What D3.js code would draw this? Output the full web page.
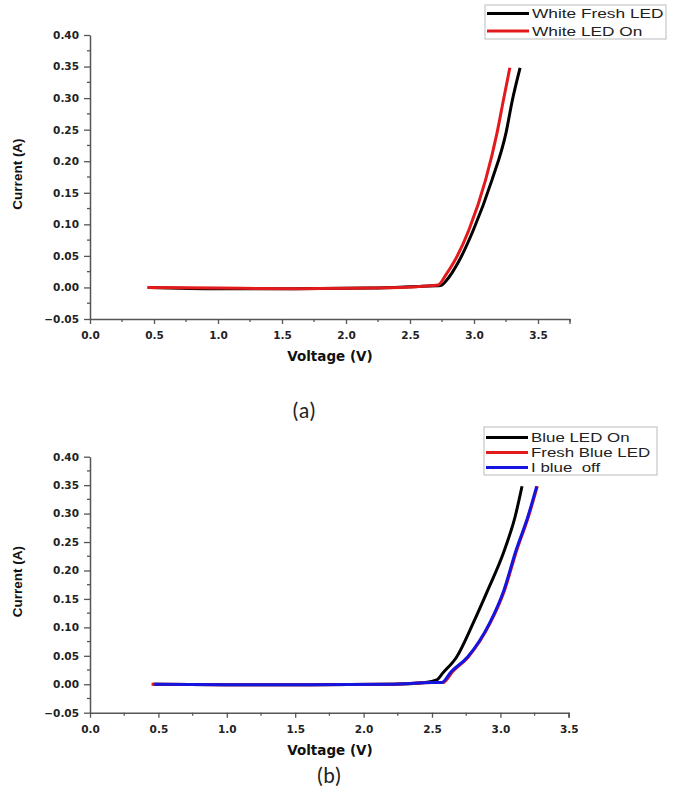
<!DOCTYPE html>
<html>
<head>
<meta charset="utf-8">
<script src="https://cdn.jsdelivr.net/npm/d3@7"></script>
<style>
body { margin: 0; background: #fff; }
text { font-family: "Liberation Sans", Arial, sans-serif; white-space: pre; }
</style>
</head>
<body>
<div id="container"></div>
<script>
var width = 675,
    height = 802;

// panel (a)
var whiteFreshV = [0.45, 1.0, 1.6, 2.2, 2.6, 2.74, 2.80, 2.875, 2.995, 3.14, 3.25, 3.30, 3.36];
var whiteFreshI = [0, -0.002, -0.002, -0.001, 0.002, 0.003, 0.015, 0.039, 0.091, 0.17, 0.245, 0.297, 0.348];
var whiteOnV = [0.45, 1.0, 1.6, 2.2, 2.6, 2.72, 2.78, 2.84, 2.96, 3.09, 3.18, 3.23, 3.28];
var whiteOnI = [0, -0.001, -0.002, -0.001, 0.002, 0.004, 0.02, 0.039, 0.091, 0.17, 0.245, 0.297, 0.348];

// panel (b)
var blueOnV = [0.46, 1.0, 1.6, 2.2, 2.45, 2.534, 2.58, 2.68, 2.80, 2.907, 3.03, 3.107, 3.158];
var blueOnI = [0, -0.001, -0.001, 0, 0.003, 0.0075, 0.02, 0.048, 0.107, 0.165, 0.236, 0.294, 0.348];
var freshBlueV = [0.45, 1.0, 1.6, 2.2, 2.5, 2.58, 2.65, 2.765, 2.924, 3.03, 3.12, 3.204, 3.27];
var freshBlueI = [0, -0.001, -0.001, 0, 0.003, 0.003, 0.022, 0.048, 0.107, 0.165, 0.236, 0.294, 0.348];
var blueOffV = [0.47, 1.0, 1.6, 2.2, 2.5, 2.57, 2.64, 2.76, 2.92, 3.025, 3.115, 3.2, 3.265];
var blueOffI = [0, -0.001, -0.001, 0, 0.003, 0.003, 0.022, 0.048, 0.107, 0.165, 0.236, 0.294, 0.348];

var xTicks = [0.0, 0.5, 1.0, 1.5, 2.0, 2.5, 3.0, 3.5];
var yTicks = [-0.05, 0.00, 0.05, 0.10, 0.15, 0.20, 0.25, 0.30, 0.35, 0.40];

var svg = d3.select('div#container')
    .append('svg')
    .attr('width', width)
    .attr('height', height);

function zip(vs, is) {
    return vs.map(function(v, i) { return [v, is[i]]; });
}

function panel(opt) {
    var x = d3.scaleLinear().domain([0, opt.xMax]).range([90, opt.xRight]);
    var y = d3.scaleLinear().domain([-0.05, 0.40]).range([opt.yBottom, opt.yTop]);
    var g = svg.append('g');

    // minor ticks
    var xMinor = d3.range(0.25, opt.xMax + 0.001, 0.5);
    g.selectAll('.xm').data(xMinor).enter().append('line')
        .attr('x1', function(d) { return x(d); }).attr('x2', function(d) { return x(d); })
        .attr('y1', opt.yBottom).attr('y2', opt.yBottom + 3)
        .attr('stroke', '#555').attr('stroke-width', 1.3);
    var yMinor = d3.range(-0.025, 0.40, 0.05);
    g.selectAll('.ym').data(yMinor).enter().append('line')
        .attr('y1', function(d) { return y(d); }).attr('y2', function(d) { return y(d); })
        .attr('x1', 90).attr('x2', 87)
        .attr('stroke', '#555').attr('stroke-width', 1.3);

    var xAxis = d3.axisBottom(x).tickValues(xTicks.filter(function(t) { return t <= opt.xMax; }))
        .tickFormat(d3.format('.1f')).tickSize(5).tickSizeOuter(0);
    var yAxis = d3.axisLeft(y).tickValues(yTicks)
        .tickFormat(d3.format('.2f')).tickSize(6).tickSizeOuter(0);

    var gx = g.append('g').attr('transform', 'translate(0,' + opt.yBottom + ')').call(xAxis);
    var gy = g.append('g').attr('transform', 'translate(90,0)').call(yAxis);
    [gx, gy].forEach(function(a) {
        a.select('.domain').attr('stroke', '#555').attr('stroke-width', 1.5);
        a.selectAll('.tick line').attr('stroke', '#555').attr('stroke-width', 1.3);
        a.selectAll('.tick text').attr('fill', '#222')
            .style('font-family', '"DejaVu Sans", sans-serif')
            .style('font-size', '10.5px').style('font-weight', 'bold');
    });
    gx.selectAll('.tick text').attr('dy', '1.15em');
    gy.selectAll('.tick text').attr('x', -11);

    // tick at the far end of the x axis
    g.append('line').attr('x1', x(opt.xMax)).attr('x2', x(opt.xMax))
        .attr('y1', opt.yBottom).attr('y2', opt.yBottom + 5)
        .attr('stroke', '#555').attr('stroke-width', 1.3);

    g.append('text')
        .attr('transform', 'translate(21.5,' + ((opt.yTop + opt.yBottom) / 2 - 3) + ') rotate(-90)')
        .attr('text-anchor', 'middle')
        .style('font-size', '13.5px').style('font-weight', 'bold').attr('fill', '#111')
        .text('Current (A)');
    g.append('text')
        .attr('x', 330).attr('y', opt.yBottom + 42)
        .attr('text-anchor', 'middle')
        .style('font-family', '"DejaVu Sans", sans-serif')
        .style('font-size', '13.5px').style('font-weight', 'bold').attr('fill', '#111')
        .text('Voltage (V)');

    var line = d3.line().curve(d3.curveMonotoneX)
        .x(function(d) { return x(d[0]); }).y(function(d) { return y(d[1]); });
    opt.series.forEach(function(s) {
        g.append('path').datum(zip(s.v, s.i))
            .attr('d', line).attr('fill', 'none')
            .attr('stroke', s.color).attr('stroke-width', 3)
            .attr('stroke-linejoin', 'round');
    });

    // legend (text stretched sideways like the scanned figure)
    var L = opt.legend, lg = g.append('g');
    lg.append('rect').attr('x', L.x).attr('y', L.y)
        .attr('width', L.w).attr('height', L.h)
        .attr('fill', '#fff').attr('stroke', '#bbb').attr('stroke-width', 1);
    opt.series.forEach(function(s, k) {
        var ly = L.first + k * L.step;
        lg.append('line').attr('x1', L.x + 2).attr('x2', L.x + 44)
            .attr('y1', ly).attr('y2', ly)
            .attr('stroke', s.color).attr('stroke-width', 3);
        lg.append('text')
            .attr('transform', 'translate(' + (L.x + 47) + ',' + (ly + 4.8) + ') scale(1.3,1)')
            .style('font-size', L.font + 'px').attr('fill', '#222').text(s.name);
    });

    svg.append('text').attr('x', opt.label[0]).attr('y', opt.label[1])
        .attr('text-anchor', 'middle')
        .style('font-family', 'Carlito, "Open Sans", sans-serif').style('font-size', '22px')
        .attr('fill', '#222').text(opt.label[2]);
}

panel({
    xMax: 3.75, xRight: 570, yTop: 35, yBottom: 319,
    legend: { x: 485, y: 5, w: 181, h: 34, first: 13.5, step: 17.4, font: 13.3 },
    label: [304, 418, '(a)'],
    series: [
        { name: 'White Fresh LED', color: '#000', v: whiteFreshV, i: whiteFreshI },
        { name: 'White LED On', color: '#e31a1c', v: whiteOnV, i: whiteOnI }
    ]
});

panel({
    xMax: 3.5, xRight: 568.8, yTop: 456.7, yBottom: 712.7,
    legend: { x: 484, y: 427, w: 173, h: 48, first: 437.5, step: 15, font: 13 },
    label: [329, 783, '(b)'],
    series: [
        { name: 'Blue LED On', color: '#000', v: blueOnV, i: blueOnI },
        { name: 'Fresh Blue LED', color: '#e31a1c', v: freshBlueV, i: freshBlueI },
        { name: 'I blue  off', color: '#1515e0', v: blueOffV, i: blueOffI }
    ]
});
</script>
</body>
</html>
